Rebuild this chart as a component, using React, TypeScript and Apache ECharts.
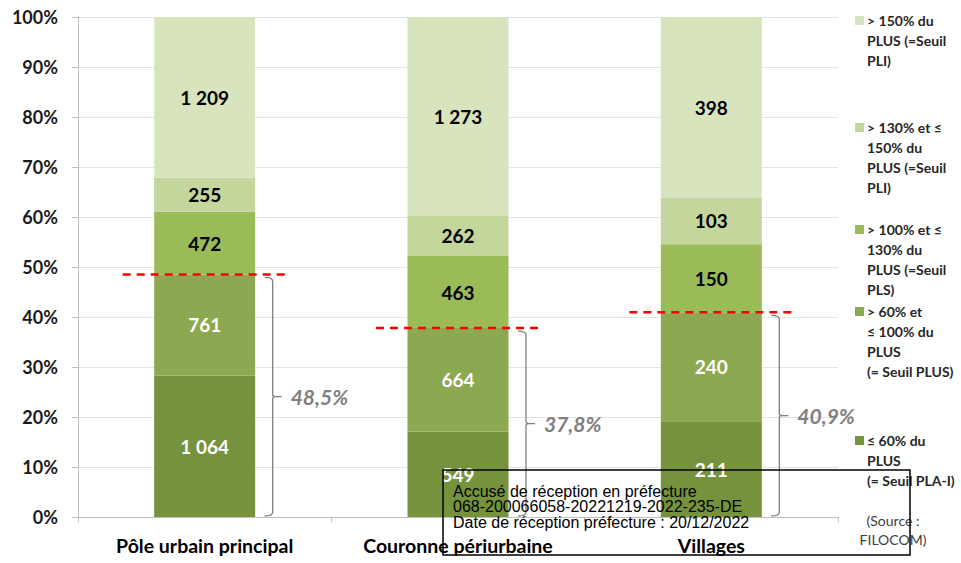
import React, { useEffect, useRef } from "react";
import * as echarts from "echarts";

const categories = ["Pôle urbain principal", "Couronne périurbaine", "Villages"];
const seuilPLAI = [1064, 549, 211];
const seuilPLUS = [761, 664, 240];
const seuilPLS = [472, 463, 150];
const seuilPLI130 = [255, 262, 103];
const seuilPLI150 = [1209, 1273, 398];

const seriesNames = [
  "≤ 60% du PLUS (= Seuil PLA-I)",
  "> 60% et ≤ 100% du PLUS (= Seuil PLUS)",
  "> 100% et ≤ 130% du PLUS (=Seuil PLS)",
  "> 130% et ≤ 150% du PLUS (=Seuil PLI)",
  "> 150% du PLUS (=Seuil PLI)",
];
const seriesColors = ["#76923C", "#8CA850", "#9BBB59", "#C3D69B", "#D7E4BD"];
const labelColors = ["#FFFFFF", "#FFFFFF", "#000000", "#000000", "#000000"];

// legend (top to bottom)
const legendLines = [
  ["> 150% du", "PLUS (=Seuil", "PLI)"],
  ["> 130% et ≤", "150% du", "PLUS (=Seuil", "PLI)"],
  ["> 100% et ≤", "130% du", "PLUS (=Seuil", "PLS)"],
  ["> 60% et", "≤ 100% du", "PLUS", "(= Seuil PLUS)"],
  ["≤ 60% du", "PLUS", "(= Seuil PLA-I)"],
];
const legendColorIdx = [4, 3, 2, 1, 0];
const legendTops = [20, 127, 229, 311, 440];

const stampLines = [
  "Accusé de réception en préfecture",
  "068-200066058-20221219-2022-235-DE",
  "Date de réception préfecture : 20/12/2022",
];
const sourceLines = ["(Source :", "FILOCOM)"];

const yTicks = [0, 10, 20, 30, 40, 50, 60, 70, 80, 90, 100];

const fmt = (n: number) => String(n).replace(/\B(?=(\d{3})+(?!\d))/g, " ");

export default function App() {
  const ref = useRef<HTMLDivElement>(null);
  useEffect(() => {
    if (!ref.current) return;
    const chart = echarts.init(ref.current, undefined, { renderer: "svg" });
    const counts = [seuilPLAI, seuilPLUS, seuilPLS, seuilPLI130, seuilPLI150];
    const totals = categories.map((_, j) => counts.reduce((s, arr) => s + arr[j], 0));
    const pct = counts.map((arr) => arr.map((v, j) => (v / totals[j]) * 100));
    const thresholds = categories.map((_, j) => ((seuilPLAI[j] + seuilPLUS[j]) / totals[j]) * 100);

    const barSeries = counts.map((arr, i) => ({
      name: seriesNames[i],
      type: "bar",
      stack: "total",
      barWidth: 101,
      data: pct[i],
      itemStyle: { color: seriesColors[i] },
      label: {
        show: true,
        position: "inside",
        formatter: (p: any) => fmt(arr[p.dataIndex]),
        color: labelColors[i],
        fontFamily: "Lato",
        fontWeight: "bold",
        fontSize: 19,
      },
    }));

    const braceSeries = {
      type: "custom",
      z: 5,
      silent: true,
      data: thresholds.map((t, j) => [j, t]),
      renderItem: (params: any, api: any) => {
        const idx = api.value(0);
        const v = api.value(1);
        const p = api.coord([idx, v]);
        const b = api.coord([idx, 0]);
        const cx = p[0];
        const ty = p[1];
        const vx = cx + 68;
        const top = ty + 3;
        const bot = b[1] - 1;
        const mid = (top + bot) / 2;
        const hx = vx - 8;
        const r = 4;
        const d =
          `M${hx},${top} Q${vx},${top} ${vx},${top + r} L${vx},${mid - 2} ` +
          `Q${vx},${mid} ${vx + 3},${mid} L${vx + 9},${mid} M${vx + 3},${mid} Q${vx},${mid} ${vx},${mid + 2} ` +
          `L${vx},${bot - r} Q${vx},${bot} ${hx},${bot}`;
        const txt = thresholds[params.dataIndex].toFixed(1).replace(".", ",") + "%";
        return {
          type: "group",
          children: [
            {
              type: "path",
              shape: { pathData: d },
              style: { stroke: "#808080", lineWidth: 1.3, fill: "none" },
            },
            {
              type: "line",
              shape: { x1: cx - 82, y1: ty, x2: cx + 85, y2: ty },
              style: { stroke: "#FF0000", lineWidth: 2.5, lineDash: [8, 6] },
            },
            {
              type: "text",
              x: cx + 86,
              y: mid,
              style: {
                text: txt,
                fill: "#808080",
                font: "italic bold 21px Lato",
                align: "left",
                verticalAlign: "middle",
              },
            },
          ],
        };
      },
    };

    const graphics: any[] = [];
    legendLines.forEach((lines, k) => {
      const top = legendTops[k];
      graphics.push({
        type: "rect",
        shape: { x: 855, y: top - 4, width: 9, height: 9 },
        style: { fill: seriesColors[legendColorIdx[k]] },
      });
      lines.forEach((ln, m) => {
        graphics.push({
          type: "text",
          x: 867,
          y: top + m * 20,
          style: {
            text: ln,
            fill: "#262626",
            font: "bold 14px Lato",
            align: "left",
            verticalAlign: "middle",
          },
        });
      });
    });
    sourceLines.forEach((ln, m) => {
      graphics.push({
        type: "text",
        x: 893,
        y: 520 + m * 19,
        style: {
          text: ln,
          fill: "#404040",
          font: "14px Lato",
          align: "center",
          verticalAlign: "middle",
        },
      });
    });
    graphics.push({
      type: "rect",
      shape: { x: 443, y: 470, width: 467, height: 85 },
      style: { fill: "none", stroke: "#000", lineWidth: 1.5 },
      z: 100,
    });
    stampLines.forEach((ln, m) => {
      graphics.push({
        type: "text",
        x: 453,
        y: 491 + m * 15.5,
        z: 101,
        style: {
          text: ln,
          fill: "#000",
          font: "16px 'Liberation Sans'",
          align: "left",
          verticalAlign: "middle",
        },
      });
    });

    chart.setOption({
      animation: false,
      grid: { left: 78, right: 123, top: 17, bottom: 46, containLabel: false },
      xAxis: {
        type: "category",
        data: categories,
        axisLine: { lineStyle: { color: "#BFBFBF" } },
        axisTick: { show: true, length: 5, lineStyle: { color: "#BFBFBF" } },
        axisLabel: {
          margin: 18,
          color: "#000",
          fontFamily: "Lato",
          fontWeight: "bold",
          fontSize: 19.5,
        },
      },
      yAxis: {
        type: "value",
        min: yTicks[0],
        max: yTicks[yTicks.length - 1],
        interval: yTicks[1] - yTicks[0],
        axisLine: { show: true, lineStyle: { color: "#BFBFBF" } },
        axisTick: { show: true, length: 6, lineStyle: { color: "#BFBFBF" } },
        splitLine: { lineStyle: { color: "#E3E3E3" } },
        axisLabel: {
          margin: 20,
          formatter: "{value}%",
          color: "#1a1a1a",
          fontFamily: "Lato",
          fontWeight: "bold",
          fontSize: 18,
        },
      },
      series: [...barSeries, braceSeries],
      graphic: graphics,
    });
    return () => chart.dispose();
  }, []);
  return (
    <div
      ref={ref}
      style={{ position: "fixed", left: 0, top: 0, width: 961, height: 563, background: "#fff" }}
    />
  );
}
